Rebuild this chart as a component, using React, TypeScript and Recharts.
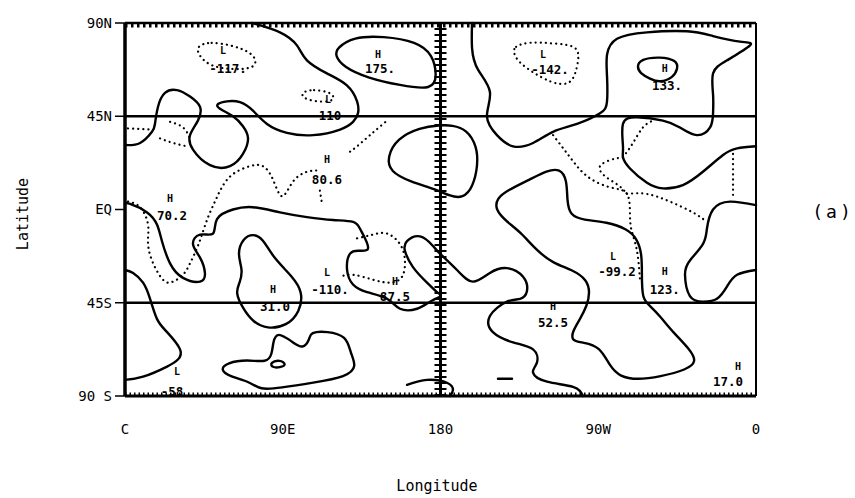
import React from 'react';
import { ScatterChart, Scatter, XAxis, YAxis, ReferenceLine } from 'recharts';

// contour lines, [longitude east 0..360, latitude]
const contourNW = [[72.5,90],[88.4,85.5],[98.1,79.2],[103.8,72],[115.2,65.7],[126.6,59.9],[132.4,52.2],[132.9,46.4],[130.1,42.3],[122.7,38.6],[107.3,35.9],[92.4,37],[81,41.3],[73,47.7],[65.6,51.8],[58.2,52.2],[53.1,50.9],[54.2,48.6],[61.6,45],[67.3,40.2],[70.2,34.3],[67.3,26.8],[59.9,20.9],[48.5,21.4],[38.8,28.9],[37.1,35.9],[41.6,42.9],[42.8,49.5],[37.1,54.5],[29.7,57.6],[22.8,56.3],[18.8,49.5],[17.1,41.3],[15.4,37.5],[8.6,32.1],[0,31.1]];
const contourEq = [[0,2.7],[2.9,2.7],[12.6,-1.4],[18.3,-7.4],[21.1,-15.3],[25.7,-26],[33.1,-33],[42.8,-34.8],[45.6,-30.6],[42.8,-23.2],[38.8,-16.7],[42.8,-12.1],[50.2,-11.6],[52.5,-4.6],[61.6,0],[73,1.1],[88.4,-1.4],[103.8,-3.7],[118.7,-5.1],[130.1,-6],[134.1,-9.3],[136.9,-13.9],[138.6,-19],[134.1,-19.9],[128.4,-21.3],[126.7,-29.2],[130.1,-36.2],[138.1,-39.9],[149.5,-43.1],[156.9,-47.9],[166.6,-47.9],[174,-44.5],[179.7,-42.2]];
const contourDateline = [[179.7,-40.8],[178,-39.9],[172.3,-35.3],[164.3,-27.8],[159.7,-19.9],[160.9,-15.3],[168.3,-13],[175.7,-17.6],[179.7,-21.3],[189.4,-29.2],[198.5,-34.8],[208.2,-30.6],[217.9,-28.3],[227.1,-32.5],[229.3,-39.4],[225.4,-43.1],[217.9,-44.5],[208.2,-51.4],[209.9,-59.2],[221.4,-64.1],[232.8,-67.5],[235,-73.9],[232.8,-78.7],[240.8,-83.1],[255.6,-85.6],[261.3,-90]];
const contourNE = [[198,90],[198,77.9],[201.4,67.5],[208.2,56.7],[206.5,45],[212.2,35.9],[221.4,30.5],[232.8,32.1],[244.2,37.5],[257.9,41.3],[271,46.4],[275,52.2],[275,64.4],[275,74.7],[280.7,82.4],[297.8,85.5],[320.6,86],[335.5,83.7],[350.9,81],[356.6,79.2],[343.5,72],[335.5,65.7],[335.5,55.4],[335.5,46.4],[333.8,39.6],[326.3,35.9],[316.6,39.6],[306.9,42.9],[292.1,44.5],[284.1,41.3],[284.1,30.5],[284.1,25.2],[288.1,19.8],[297.8,12.9],[306.9,10.2],[318.3,11.8],[329.7,18.2],[341.2,26.3],[349.2,29.5],[360,30.5]];
const contourSE = [[360,2.1],[345.2,3.8],[335.5,0],[332,-9.3],[329.7,-16.7],[322.3,-24.6],[319.5,-31.5],[322.3,-41.8],[329.7,-44.5],[337.7,-43.1],[343.5,-37.1],[349.2,-31.5],[360,-29.2]];
const contourSW = [[0,-29.2],[4.6,-30.6],[10.3,-35.3],[14.3,-43.1],[18.3,-52.9],[24,-59.2],[31.4,-67.5],[30.2,-72.4],[24,-75.8],[10.3,-80.7],[0,-82.2]];
const lobeDateline = [[160.9,-84.6],[172.3,-82.2],[183.7,-83.6],[187.1,-87.1],[185.4,-90]];
const dashSouth = [[212.8,-81.7],[220.8,-81.7]];

// closed solid contours
const high175 = [[119.8,74.3],[120.9,77.9],[130.1,83.3],[147.2,83.7],[166.6,81],[175.7,74.7],[178,64.4],[175.7,57.6],[156.9,59.9],[138.1,63.5],[124.4,68.9]];
const ovalDateline = [[179.7,40.7],[186.6,40.7],[195.1,38.6],[200.8,30.5],[201.4,21.4],[198.5,10.7],[192.8,5.4],[185.4,6.4],[178,9.6],[162.6,13.4],[151.2,18.2],[149.5,25.2],[155.2,34.3],[168.3,39.6]];
const high133 = [[292.1,68.9],[293.8,72.5],[305.2,73.8],[314.9,72],[315.5,68],[312.6,63.5],[305.2,61.2],[299.5,63],[293.8,65.7]];
const mushroom = [[294.9,-43.1],[294.9,-30.6],[294.9,-21.3],[292.1,-13.9],[286.4,-9.3],[275,-6],[261.3,-5.1],[253.9,-2.8],[252.2,3.8],[252.2,14.5],[248.2,19.8],[240.8,18.8],[231.1,14.5],[217.9,9.1],[212.2,5.4],[211.1,0],[217.9,-6],[225.4,-10.7],[235,-19.9],[244.2,-26],[255.6,-29.2],[263.6,-33.9],[265.3,-39.9],[263.6,-46.5],[259.6,-52.9],[255,-59.2],[255,-63.6],[261.3,-64.1],[271,-66.1],[276.7,-75.8],[282.4,-80.7],[292.1,-82.2],[305.2,-80.7],[320.6,-77.3],[326.3,-73.4],[322.3,-67.5],[312.6,-59.2],[305.2,-51.4],[299.5,-46.5]];
const high31 = [[67.3,-13.9],[73,-11.6],[78.7,-13.9],[84.4,-23.2],[95.8,-32.5],[101.5,-39.9],[99.8,-49.4],[92.4,-56.2],[81,-57.7],[73,-54.3],[67.3,-47.9],[62.8,-39.9],[65.6,-35.3],[67.3,-29.2],[63.9,-21.3]];
const blobSouth = [[86.7,-58.7],[95.8,-64.1],[101.5,-67.5],[105.5,-62.6],[105.5,-59.2],[115.2,-58.7],[126.6,-61.1],[128.4,-68.9],[132.4,-75.8],[126.6,-80.7],[107.3,-83.6],[88.4,-86.1],[77,-87.1],[71.3,-83.1],[59.9,-80.7],[54.2,-77.3],[58.2,-73.9],[69.6,-72.4],[81,-73.9],[83.9,-69.9],[84.4,-64.1]];
const smallOval = [[82.7,-73.9],[88.4,-72.4],[92.4,-74.8],[88.4,-76.3],[83.9,-76.3]];

// dotted (negative) contours
const low117 = [[41,79],[48.5,81],[61.6,79.2],[72.5,75.6],[75.3,71.1],[72.5,68],[61.6,67.5],[48.5,68.9],[41.6,74.7]];
const low110 = [[101,56.7],[107.3,58],[117,56.7],[119.8,54],[117,51.8],[107.3,52.2],[101,54]];
const low142 = [[221.9,74.7],[221.4,78.8],[231.1,81],[244.2,80.1],[259.6,79.2],[258.4,70.2],[255.6,61.2],[248.2,59.9],[238.5,63],[225.4,70.2]];
const dotWest = [[1.7,3.8],[8.6,1.1],[13.1,-7],[13.1,-15.3],[15.4,-24.6],[21.7,-33.9],[27.4,-34.8],[33.1,-31.5],[37.1,-26],[41.1,-18.6],[43.9,-12.1],[47.4,-3.7],[51.3,3.8],[55.3,10.7],[61.6,17.1],[71.3,20.9],[78.7,20.9],[84.4,14.5],[89.6,6.4],[95.8,13.4],[103.8,18.2],[110.1,18.8]];
const dotMid = [[128.4,27.9],[132.4,30.5],[139.8,35.9],[149.5,42.9]];
const dotBelow806 = [[111.2,9.1],[112.4,2.7]];
const dot45a = [[1.7,39.1],[14.3,38.6]];
const dot45b = [[25.7,42.3],[33.1,39.6],[37.1,34.3]];
const dot45c = [[20,34.3],[27.4,32.1],[35.4,30.5]];
const dotLow110S = [[132.4,-13.9],[141.5,-12.1],[149.5,-11.6],[156.9,-16.7],[159.7,-24.6],[158,-32.5],[151.2,-35.3],[141.5,-33.9],[130.1,-31.5],[122.7,-32.5]];
const dotEast1 = [[244.2,35.9],[253.9,25.2],[263.6,16.1],[276.7,10.7],[286.4,7.5],[288.1,-2.8],[289.2,-10.7],[292.1,-19.9],[293.8,-33.9]];
const dotEast2 = [[284.1,25.2],[277.8,24.1],[271,20.9],[273.8,16.1],[281.3,11.8],[286.4,7.5]];
const dotEast3 = [[284.1,25.2],[289.8,32.1],[295.5,39.6],[301.2,42.9]];
const dotEast4 = [[286.4,7.5],[297.8,7.5],[310.9,3.8],[324,-1.4],[332,-6]];
const dotEast5 = [[346.9,26.8],[346.9,16.1],[346.9,5.4]];

// centre markers and their values
const centreLetters = [
  [144.3,74.7,'H'],[55.9,76.5,'L'],[115.8,53.1,'L'],[115.2,24.1,'H'],[25.7,5.4,'H'],
  [115.2,-30.6,'L'],[84.4,-38.5,'H'],[154,-34.8,'H'],[278.4,-22.7,'L'],[308,-30.1,'H'],
  [244.2,-46.9,'H'],[29.7,-78.3,'L'],[349.7,-75.9,'H'],[238.5,74.7,'L'],[308,68,'H'],
];
const centreValues = [
  [145.5,68,'175.'],[58.8,68,'-117.'],[117,45.4,'110'],[115.2,14.5,'80.6'],[26.8,-2.8,'70.2'],
  [117,-38.5,'-110.'],[85.6,-46.9,'31.0'],[154,-42.2,'87.5'],[280.7,-30.1,'-99.2'],[308,-38.5,'123.'],
  [244.2,-54.3,'52.5'],[26.8,-88,'-58'],[344,-83.1,'17.0'],[242.5,67.5,'-142.'],[309.2,59.9,'133.'],
];

const lonTicks = [0, 90, 180, 270, 360];
const lonLabels = ['C', '90E', '180', '90W', '0'];
const latTicks = [-90, -45, 0, 45, 90];
const latLabels = ['90 S', '45S', 'EQ', '45N', '90N'];

const openSolid = [contourNW, contourEq, contourDateline, contourNE, contourSE, contourSW, lobeDateline, dashSouth];
const closedSolid = [high175, ovalDateline, high133, mushroom, high31, blobSouth, smallOval];
const closedDotted = [low117, low110, low142];
const openDotted = [dotWest, dotMid, dotBelow806, dot45a, dot45b, dot45c, dotLow110S, dotEast1, dotEast2, dotEast3, dotEast4, dotEast5];

const toPoints = (pts: number[][]) => pts.map(([lon, lat]) => ({ lon, lat }));
const toMarks = (rows: (number | string)[][]) => rows.map(([lon, lat, text]) => ({ lon, lat, text }));

const FONT = '"DejaVu Sans Mono", monospace';
const noDot = () => <g />;

const solidLine = { stroke: '#000', strokeWidth: 2.4, fill: 'none', strokeLinejoin: 'round', strokeLinecap: 'round' };
const dottedLine = { stroke: '#000', strokeWidth: 2.2, fill: 'none', strokeDasharray: '0.1 5', strokeLinecap: 'round' };

const markText = (size: number, weight: string) => (props: any) => {
  const t = props.payload ? props.payload.text : props.text;
  return (
    <text x={props.cx} y={props.cy} textAnchor="middle" dominantBaseline="central"
      fontSize={size} fontWeight={weight} fontFamily={FONT} fill="#000">{t}</text>
  );
};

export default function App() {
  return (
    <div style={{ position: 'absolute', left: 0, top: 0, background: '#fff' }}>
      <ScatterChart width={855} height={498} margin={{ top: 23, right: 99, bottom: 0, left: 0 }}>
        <XAxis type="number" dataKey="lon" domain={[0, 360]} ticks={lonTicks}
          tickFormatter={(v: number) => lonLabels[lonTicks.indexOf(v)]}
          height={102} tickLine={false} tickMargin={22}
          axisLine={{ stroke: '#000', strokeWidth: 3 }}
          tick={{ fill: '#000', fontSize: 14, fontFamily: FONT }} />
        <YAxis type="number" dataKey="lat" domain={[-90, 90]} ticks={latTicks}
          tickFormatter={(v: number) => latLabels[latTicks.indexOf(v)]}
          width={125} tickSize={10} tickMargin={3}
          tickLine={{ stroke: '#000', strokeWidth: 1.5 }}
          axisLine={{ stroke: '#000', strokeWidth: 3.5 }}
          tick={{ fill: '#000', fontSize: 14, fontFamily: FONT }} />

        <ReferenceLine y={90} stroke="#000" strokeWidth={2.5} />
        <ReferenceLine y={89} stroke="#000" strokeWidth={5} strokeDasharray="2.5 3.5" />
        <ReferenceLine y={-89} stroke="#000" strokeWidth={3} strokeDasharray="1.5 3" />
        <ReferenceLine x={360} stroke="#000" strokeWidth={2} />
        <ReferenceLine y={45} stroke="#000" strokeWidth={2.5} />
        <ReferenceLine y={-45} stroke="#000" strokeWidth={2.5} />
        <ReferenceLine x={180} stroke="#000" strokeWidth={3} />
        <ReferenceLine x={180} stroke="#000" strokeWidth={12} strokeDasharray="2 4" />

        {openSolid.map((c, i) => (
          <Scatter key={'os' + i} data={toPoints(c)} line={solidLine} lineJointType="natural"
            shape={noDot} isAnimationActive={false} />
        ))}
        {closedSolid.map((c, i) => (
          <Scatter key={'cs' + i} data={toPoints(c)} line={solidLine} lineJointType="basisClosed"
            shape={noDot} isAnimationActive={false} />
        ))}
        {closedDotted.map((c, i) => (
          <Scatter key={'cd' + i} data={toPoints(c)} line={dottedLine} lineJointType="basisClosed"
            shape={noDot} isAnimationActive={false} />
        ))}
        {openDotted.map((c, i) => (
          <Scatter key={'od' + i} data={toPoints(c)} line={dottedLine} lineJointType="natural"
            shape={noDot} isAnimationActive={false} />
        ))}

        <Scatter data={toMarks(centreLetters)} shape={markText(10, 'bold')} isAnimationActive={false} />
        <Scatter data={toMarks(centreValues)} shape={markText(12.5, 'bold')} isAnimationActive={false} />

        <text x={23} y={214} transform="rotate(-90 23 214)" textAnchor="middle" dominantBaseline="central"
          fontSize={15} fontFamily={FONT} fill="#000">Latitude</text>
        <text x={437} y={486} textAnchor="middle" dominantBaseline="central"
          fontSize={15} fontFamily={FONT} fill="#000">Longitude</text>
        <text x={833} y={211} textAnchor="middle" dominantBaseline="central"
          fontSize={18} fontFamily={FONT} fill="#000" letterSpacing={3}>(a)</text>
      </ScatterChart>
    </div>
  );
}
